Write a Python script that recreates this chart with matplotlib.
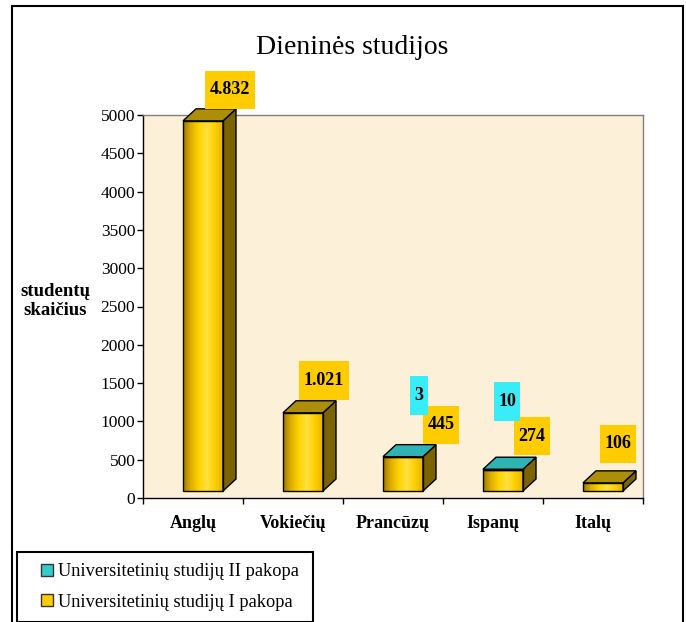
import numpy as np
import matplotlib
matplotlib.use('Agg')
import matplotlib.pyplot as plt
from matplotlib.patches import Polygon, Rectangle
from matplotlib.path import Path
from matplotlib.lines import Line2D
from matplotlib.colors import LinearSegmentedColormap
from matplotlib.transforms import ScaledTranslation

# Duomenys
kalbos = ['Anglų', 'Vokiečių', 'Prancūzų', 'Ispanų', 'Italų']
pakopa_1 = [4832, 1021, 445, 274, 106]
pakopa_2 = [0, 0, 3, 10, 0]
etiketes_1 = ['4.832', '1.021', '445', '274', '106']
etiketes_2 = ['', '', '3', '10', '']
y_ticks = [0, 500, 1000, 1500, 2000, 2500, 3000, 3500, 4000, 4500, 5000]
serijos = ['Universitetinių studijų II pakopa', 'Universitetinių studijų I pakopa']

# Etikečių poslinkiai (pikseliais)
off_1 = [(37, 38), (31, 39), (48, 39), (39, 41), (25, 46)]
off_2 = [None, None, (26, 68), (14, 75), None]

GOLD = '#FFCC00'
CYAN = '#38ECF8'
CYAN_TOP = '#2EB4B4'
GOLD_TOP = '#AC8E08'
GOLD_SIDE = '#7A6300'

plt.rcParams['font.family'] = 'Liberation Serif'


def excel_box(x0, y0, width, height, mutation_size):
    # staciakampis su mazesne horizontalia ir didesne vertikalia parasta
    px = 0.25 * mutation_size
    py = 0.6 * mutation_size
    xa, xb = x0 - px, x0 + width + px
    ya, yb = y0 - py, y0 + height + py
    return Path([(xa, ya), (xb, ya), (xb, yb), (xa, yb), (xa, ya)], closed=True)


fig = plt.figure(figsize=(6.86, 6.22), dpi=100)
ax = fig.add_axes([143/686, 124/622, 500/686, 383/622])
ax.set_facecolor('#FCF0D8')

x = np.arange(len(kalbos))
w = 0.4
dx, dy = 0.13, 157
# stulpeliai stovi "giliau" - pastumti i desine ir i virsu
shift = ax.transData + ScaledTranslation(0.10, 0.07, fig.dpi_scale_trans)

cmap = LinearSegmentedColormap.from_list(
    'auksas', ['#A07800', '#E0B000', '#FFD400', '#FFE040', '#FFD000', '#E6B400'])
grad = np.linspace(0, 1, 64).reshape(1, -1)

for i in x:
    v1 = pakopa_1[i]
    tot = pakopa_1[i] + pakopa_2[i]
    x0, x1 = i - w/2, i + w/2
    # priekine siena su gradientu
    ax.imshow(grad, extent=[x0, x1, 0, v1], aspect='auto', cmap=cmap,
              transform=shift, zorder=3, clip_on=False, interpolation='bilinear')
    ax.bar(i, v1, w, facecolor='none', edgecolor='black', linewidth=1,
           transform=shift, zorder=4, clip_on=False)
    if pakopa_2[i] > 0:
        ax.bar(i, pakopa_2[i], w, bottom=v1, color=CYAN, edgecolor='black',
               linewidth=1, transform=shift, zorder=4, clip_on=False)
    # sonas
    side = Polygon([(x1, 0), (x1 + dx, dy), (x1 + dx, tot + dy), (x1, tot)],
                   closed=True, facecolor=GOLD_SIDE, edgecolor='black', linewidth=1,
                   transform=shift, zorder=3, clip_on=False)
    ax.add_patch(side)
    # virsus
    top = Polygon([(x0, tot), (x1, tot), (x1 + dx, tot + dy), (x0 + dx, tot + dy)],
                  closed=True, facecolor=CYAN_TOP if pakopa_2[i] > 0 else GOLD_TOP,
                  edgecolor='black', linewidth=1, transform=shift, zorder=4, clip_on=False)
    ax.add_patch(top)

    ax.annotate(etiketes_1[i], xy=(i, v1), xytext=off_1[i], textcoords='offset pixels',
                ha='center', va='center', fontsize=13, fontweight='bold',
                bbox=dict(boxstyle=excel_box, fc=GOLD, ec='none'),
                annotation_clip=False, zorder=6)
    if etiketes_2[i]:
        ax.annotate(etiketes_2[i], xy=(i, tot), xytext=off_2[i], textcoords='offset pixels',
                    ha='center', va='center', fontsize=13, fontweight='bold',
                    bbox=dict(boxstyle=excel_box, fc=CYAN, ec='none'),
                    annotation_clip=False, zorder=6)

ax.set_xlim(-0.5, 4.5)
ax.set_ylim(0, 5000)
ax.set_yticks(y_ticks)
ax.tick_params(axis='y', direction='out', length=4.5, width=1, pad=1, labelsize=12.5)
ax.set_xticks(x)
ax.set_xticklabels(kalbos, fontweight='bold', fontsize=13)
ax.set_xticks(np.arange(-0.5, 5, 1), minor=True)
ax.tick_params(axis='x', which='major', length=0, pad=12)
ax.tick_params(axis='x', which='minor', direction='out', length=4.5, width=1)

for s in ['left', 'bottom']:
    ax.spines[s].set_color('black')
    ax.spines[s].set_linewidth(1)
for s in ['top', 'right']:
    ax.spines[s].set_color('#808080')
    ax.spines[s].set_linewidth(1)

fig.text(352/686, 1 - 48/622, 'Dieninės studijos', ha='center', va='center', fontsize=20)
fig.text(55/686, 1 - 301/622, 'studentų\nskaičius', ha='center', va='center',
         fontsize=13.5, fontweight='bold', linespacing=1.15)

handles = [Line2D([], [], ls='none', marker='s', markersize=8.6, mfc='#33CCCC', mec='#333333', mew=1),
           Line2D([], [], ls='none', marker='s', markersize=8.6, mfc=GOLD, mec='#333333', mew=1)]
leg = fig.legend(handles, serijos, loc='upper left',
                 bbox_to_anchor=(17/686, 1 - 552/622, 296/686, 0), mode='expand',
                 borderaxespad=0, fontsize=13.2, frameon=True, fancybox=False,
                 edgecolor='black', framealpha=1, handlelength=2.0, handletextpad=-0.4,
                 labelspacing=0.72, borderpad=0.62)
leg.get_frame().set_linewidth(1.5)

# isorinis remelis
fig.add_artist(Rectangle((12/686, -0.02), (683 - 12)/686, 0.02 + 616/622, fill=False,
                         edgecolor='black', linewidth=1.5, transform=fig.transFigure))

fig.savefig('out.png', dpi=100)
